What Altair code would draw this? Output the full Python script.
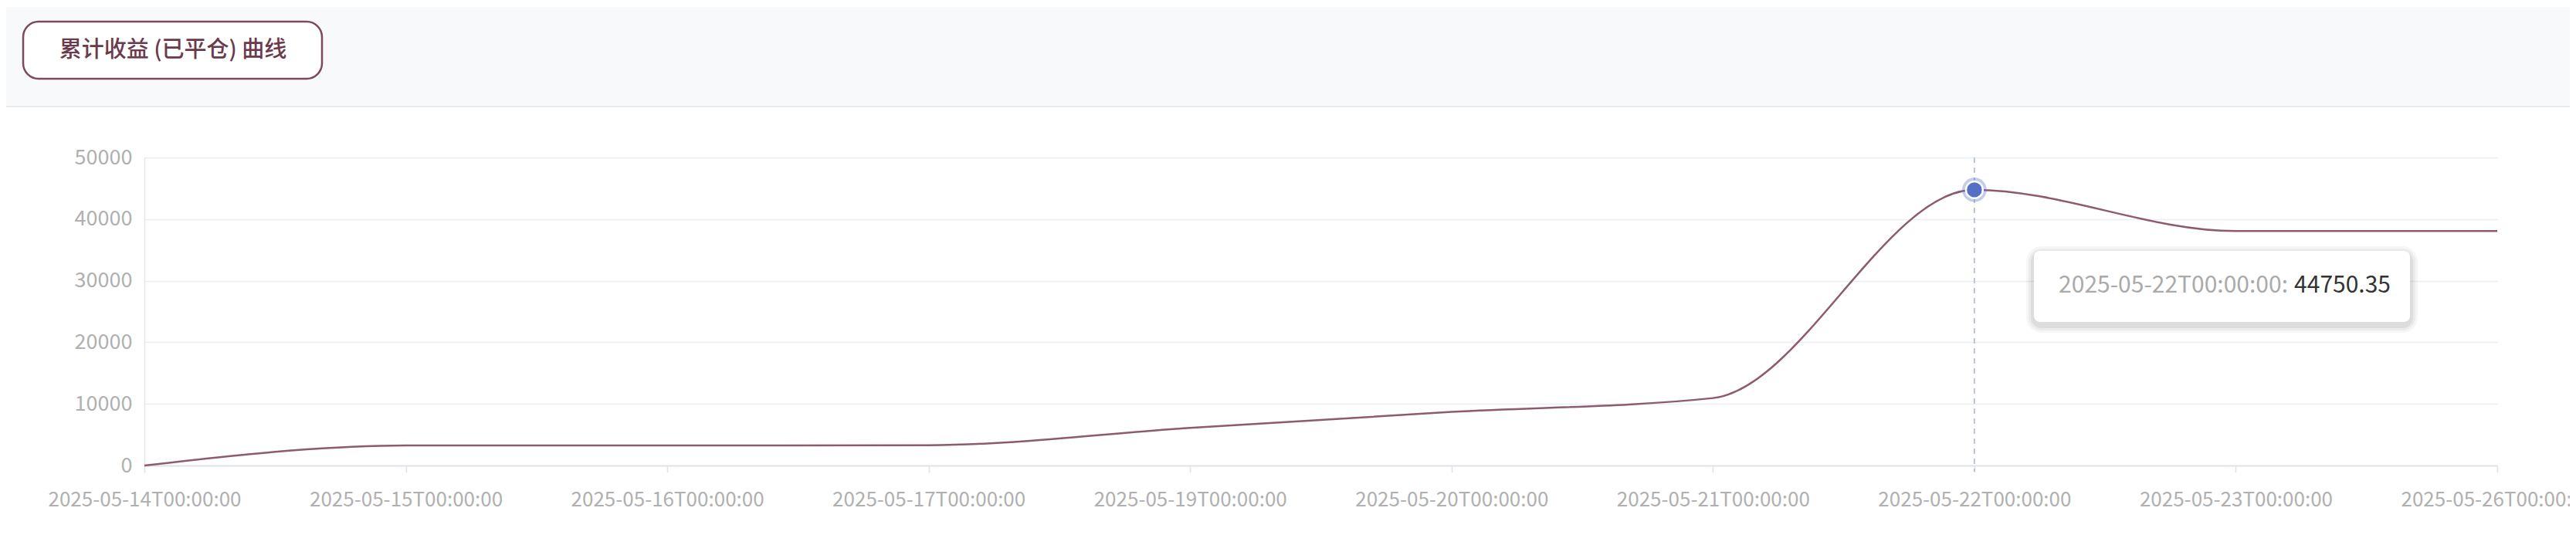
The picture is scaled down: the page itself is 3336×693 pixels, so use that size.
import altair as alt
import pandas as pd

dates = ["2025-05-14T00:00:00", "2025-05-15T00:00:00", "2025-05-16T00:00:00",
         "2025-05-17T00:00:00", "2025-05-19T00:00:00", "2025-05-20T00:00:00",
         "2025-05-21T00:00:00", "2025-05-22T00:00:00", "2025-05-23T00:00:00",
         "2025-05-26T00:00:00"]
values = [0, 3250, 3250, 3300, 6100, 8700, 10950, 44750.35, 38050, 38050]
y_ticks = [0, 10000, 20000, 30000, 40000, 50000]
title_text = "累计收益 (已平仓) 曲线"
hover_date = "2025-05-22T00:00:00"
hover_value = 44750.35

df = pd.DataFrame({"date": dates, "value": values})
hl = pd.DataFrame({"date": [hover_date], "value": [hover_value]})

FONT = "Noto Sans CJK SC"
W, H = 3047, 399
LINE = "#8d5b6d"

x_enc = alt.X("date:O", sort=dates,
              scale=alt.Scale(type="point", padding=0),
              axis=alt.Axis(title=None, labelAngle=0, labelFont=FONT, labelFontSize=26,
                            labelColor="#b0b0b0", domainColor="#dfe3ea", domainWidth=2,
                            tickColor="#dfe3ea", tickSize=9, tickWidth=1.5, labelLimit=0,
                            labelPadding=22, grid=False))
y_enc = alt.Y("value:Q", scale=alt.Scale(domain=[0, 50000], nice=False),
              axis=alt.Axis(title=None, values=y_ticks, format="d", labelFont=FONT,
                            labelFontSize=27, labelColor="#b0b0b0", domainColor="#e3e6ee",
                            domainWidth=1.5, ticks=False, labelPadding=16,
                            gridColor="#e9edf5", gridWidth=1.5))

base = alt.Chart(df)

one = pd.DataFrame({"k": [0]})
header = alt.Chart(one).mark_rect(color="#f8f9fb").encode(
    x=alt.value(-184), x2=alt.value(3145), y=alt.value(-195), y2=alt.value(-66))
header_line = alt.Chart(one).mark_rule(color="#e7e9ee", strokeWidth=2).encode(
    x=alt.value(-184), x2=alt.value(3145), y=alt.value(-66))
card_right = alt.Chart(one).mark_rule(color="#e7e9ee", strokeWidth=2).encode(
    x=alt.value(3145), y=alt.value(-195), y2=alt.value(489))
button = alt.Chart(one).mark_rect(
    fill="white", stroke="#7d4a5c", strokeWidth=2.5, cornerRadius=20).encode(
    x=alt.value(-157), x2=alt.value(230), y=alt.value(-176), y2=alt.value(-102))
button_text = alt.Chart(pd.DataFrame({"t": [title_text]})).mark_text(
    font=FONT, fontSize=29, fontWeight=500, color="#6b3a4c", align="center",
    baseline="middle").encode(x=alt.value(37), y=alt.value(-139), text="t:N")

line = base.mark_line(color=LINE, strokeWidth=2.5, interpolate="monotone").encode(x=x_enc, y=y_enc)

cross = alt.Chart(hl).mark_rule(color="#aab4c6", strokeWidth=1.5, strokeDash=[7, 6]).encode(
    x=alt.X("date:O", sort=dates), y=alt.value(0), y2=alt.value(407))
halo = alt.Chart(hl).mark_point(filled=True, color="#5470c6", opacity=0.35, size=1000).encode(
    x=alt.X("date:O", sort=dates), y="value:Q")
dot = alt.Chart(hl).mark_point(filled=True, fill="#5470c6", stroke="white", strokeWidth=2.5,
                               opacity=1, size=480).encode(
    x=alt.X("date:O", sort=dates), y="value:Q")

shadows = []
for i, op in enumerate([0.035, 0.045, 0.06]):
    d = 10 - i * 3
    shadows.append(alt.Chart(one).mark_rect(
        color="#000000", opacity=op, cornerRadius=10 + d).encode(
        x=alt.value(2447 - d), x2=alt.value(2934 + d), y=alt.value(121 - d + 4),
        y2=alt.value(213 + d + 4)))
tip_box = alt.Chart(one).mark_rect(color="white", cornerRadius=8).encode(
    x=alt.value(2447), x2=alt.value(2934), y=alt.value(121), y2=alt.value(213))
tip_label = alt.Chart(hl.assign(t=hl["date"] + ":")).mark_text(
    font=FONT, fontSize=30, color="#aaaaaa", align="right", baseline="middle").encode(
    x=alt.value(2776), y=alt.value(166), text="t:N")
tip_val = alt.Chart(hl.assign(t=hl["value"].map(lambda v: f"{v:.2f}"))).mark_text(
    font=FONT, fontSize=30, color="#333333", align="right", baseline="middle").encode(
    x=alt.value(2909), y=alt.value(166), text="t:N")

chart = alt.layer(header, header_line, card_right, button, button_text,
                  line, cross, halo, dot, *shadows, tip_box, tip_label, tip_val).properties(
    width=W, height=H,
    autosize=alt.AutoSizeParams(type="none"),
    padding={"left": 179, "top": 196, "right": 94, "bottom": 82},
    background="white",
).configure_view(stroke=None)

chart.save("out.html", embed_options={"renderer": "svg", "actions": False})
